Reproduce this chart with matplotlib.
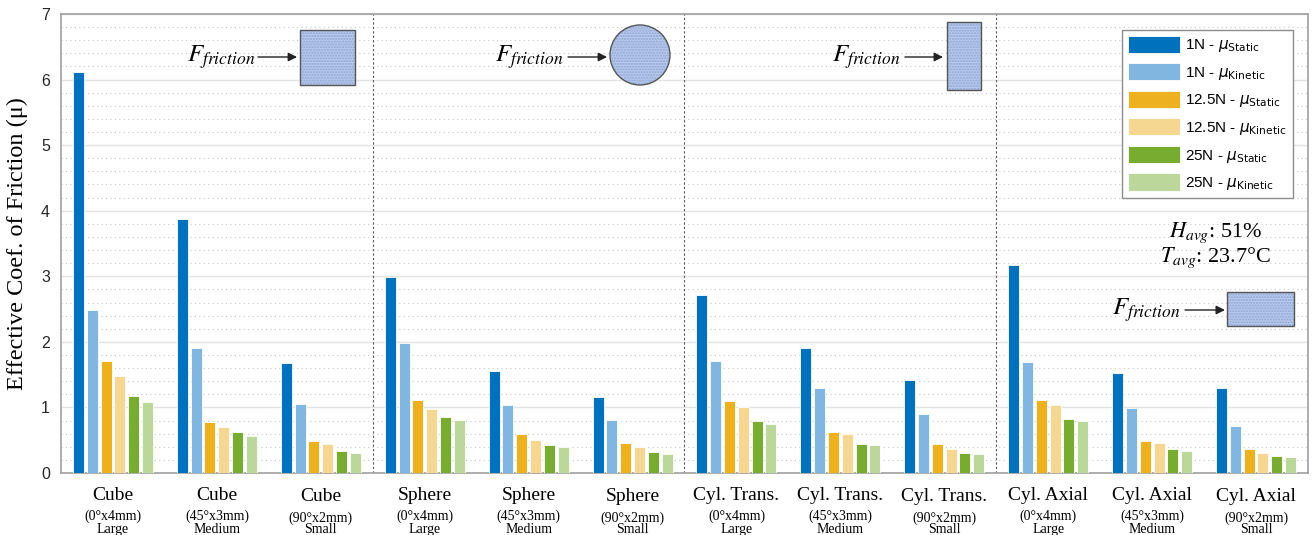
import matplotlib
matplotlib.use("Agg")
import matplotlib.pyplot as plt
import matplotlib.patches as mpatches
import numpy as np

plt.rcParams['mathtext.fontset'] = 'stix'
plt.rcParams['font.family'] = ['Liberation Sans', 'DejaVu Sans']

# Specimen groups
shapes = ["Cube", "Cube", "Cube",
          "Sphere", "Sphere", "Sphere",
          "Cyl. Trans.", "Cyl. Trans.", "Cyl. Trans.",
          "Cyl. Axial", "Cyl. Axial", "Cyl. Axial"]
dims = ["(0°x4mm)", "(45°x3mm)", "(90°x2mm)"] * 4
sizes = ["Large", "Medium", "Small"] * 4

# Effective coefficient of friction per group
n1_static = [6.11, 3.88, 1.67, 2.99, 1.56, 1.16, 2.72, 1.90, 1.42, 3.17, 1.52, 1.29]
n1_kinetic = [2.49, 1.91, 1.05, 1.99, 1.03, 0.81, 1.71, 1.29, 0.90, 1.70, 0.99, 0.72]
n12_static = [1.71, 0.78, 0.49, 1.11, 0.59, 0.45, 1.10, 0.63, 0.44, 1.12, 0.49, 0.36]
n12_kinetic = [1.48, 0.70, 0.44, 0.97, 0.51, 0.40, 1.00, 0.59, 0.37, 1.03, 0.45, 0.31]
n25_static = [1.17, 0.62, 0.33, 0.85, 0.43, 0.32, 0.79, 0.44, 0.31, 0.83, 0.36, 0.26]
n25_kinetic = [1.09, 0.57, 0.30, 0.81, 0.40, 0.29, 0.75, 0.42, 0.29, 0.79, 0.34, 0.24]

series = [n1_static, n1_kinetic, n12_static, n12_kinetic, n25_static, n25_kinetic]
labels = [r"1N - $\mu_{\mathrm{Static}}$", r"1N - $\mu_{\mathrm{Kinetic}}$",
          r"12.5N - $\mu_{\mathrm{Static}}$", r"12.5N - $\mu_{\mathrm{Kinetic}}$",
          r"25N - $\mu_{\mathrm{Static}}$", r"25N - $\mu_{\mathrm{Kinetic}}$"]
colors = ["#0072BD", "#80B6DF", "#EDB120", "#F6D791", "#77AC30", "#BBD79A"]

fig = plt.figure(figsize=(13.12, 5.35), dpi=100)
ax = fig.add_axes([61 / 1312, 62 / 535, 1247 / 1312, 459 / 535])

x = np.arange(1, len(shapes) + 1)
step = 0.1328
width = 0.106
handles = []
for i, (vals, col, lab) in enumerate(zip(series, colors, labels)):
    h = ax.bar(x + (i - 2.5) * step, vals, width, color=col, edgecolor="white",
               linewidth=0.6, label=lab, zorder=3)
    handles.append(h)

ax.set_xlim(0.5, 12.5)
ax.set_ylim(0, 7)
ax.set_xticks([])
ax.set_yticks(range(8))
ax.set_yticks(np.arange(0, 7.01, 0.2), minor=True)
ax.tick_params(axis="y", which="both", length=0, labelsize=11.5, pad=8,
               colors="#262626")
ax.grid(axis="y", which="major", color="#E3E3E3", linewidth=1, zorder=0)
ax.grid(axis="y", which="minor", color="#C8C8C8", linewidth=0.8,
        linestyle=(0, (1, 3)), zorder=0)
for sp in ax.spines.values():
    sp.set_color("#A0A0A0")
    sp.set_linewidth(1.2)

# dashed separators between shape families
for xs in (3.5, 6.5, 9.5):
    ax.axvline(xs, color="#555555", linewidth=0.8, linestyle=(0, (2, 2)), zorder=2)

ax.set_ylabel("Effective Coef. of Friction (μ)", family="Liberation Serif",
              fontsize=17.5, labelpad=9)

# category labels under each group
xt = ax.get_xaxis_transform()
for i in range(len(shapes)):
    dy = -0.004 if sizes[i] == "Small" else 0.0
    ax.text(x[i], -0.048 + dy, shapes[i], transform=xt, ha="center", va="center",
            family="Liberation Serif", fontsize=14)
    ax.text(x[i], -0.094 + dy, dims[i], transform=xt, ha="center", va="center",
            family="Liberation Serif", fontsize=10)
    ax.text(x[i], -0.123, sizes[i], transform=xt, ha="center", va="center",
            family="Liberation Serif", fontsize=10)

leg = ax.legend(handles=handles, loc="upper right", bbox_to_anchor=(0.988, 0.966),
                fontsize=11, handlelength=3.4, handleheight=1.35, labelspacing=0.58,
                handletextpad=0.35, borderpad=0.4, fancybox=False, framealpha=1,
                edgecolor="#8C8C8C", borderaxespad=0)
leg.get_frame().set_linewidth(1.0)
for t in leg.get_texts():
    t.set_math_fontfamily("dejavusans")


def shape_patch(kind, x0, y0, w, h):
    if kind == "circle":
        fill = mpatches.Ellipse((x0, y0), w, h)
        edge = mpatches.Ellipse((x0, y0), w, h)
    else:
        fill = mpatches.Rectangle((x0, y0), w, h)
        edge = mpatches.Rectangle((x0, y0), w, h)
    fill.set(transform=ax.transAxes, facecolor="#B7C9EA", edgecolor="#8FA6D6",
             hatch="......", linewidth=0, zorder=4)
    edge.set(transform=ax.transAxes, fill=False, edgecolor="#555555",
             linewidth=1.0, zorder=5)
    ax.add_patch(fill)
    ax.add_patch(edge)


def friction_arrow(x_txt, x0, x1, y):
    ax.text(x_txt, y, r"$F_{friction}$", transform=ax.transAxes, ha="right",
            va="center", fontsize=18, zorder=5)
    ax.annotate("", xy=(x1, y), xytext=(x0, y), xycoords="axes fraction",
                arrowprops=dict(arrowstyle="-|>", color="#222222", lw=1.0,
                                mutation_scale=13, shrinkA=0, shrinkB=0), zorder=5)


shape_patch("rect", 0.1917, 0.8453, 0.0441, 0.1198)
friction_arrow(0.156, 0.158, 0.1893, 0.9063)

shape_patch("circle", 0.4643, 0.9107, 0.0481, 0.1307)
friction_arrow(0.4026, 0.4066, 0.4379, 0.9063)

shape_patch("rect", 0.7105, 0.8344, 0.0273, 0.148)
friction_arrow(0.6728, 0.6768, 0.7073, 0.9063)

shape_patch("rect", 0.935, 0.3203, 0.0537, 0.0741)
friction_arrow(0.8974, 0.9014, 0.9334, 0.3551)

ax.text(0.926, 0.523, r"$H_{avg}$: 51%", transform=ax.transAxes, ha="center",
        va="center", family="Liberation Serif", fontsize=16)
ax.text(0.926, 0.468, r"$T_{avg}$: 23.7°C", transform=ax.transAxes, ha="center",
        va="center", family="Liberation Serif", fontsize=16)

fig.savefig("out.png", dpi=100)
